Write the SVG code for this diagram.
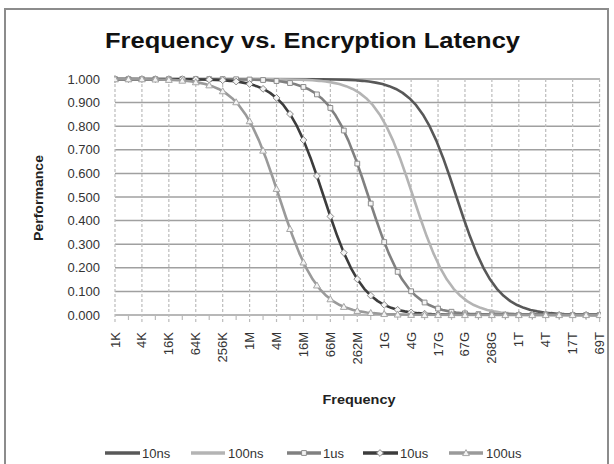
<svg xmlns="http://www.w3.org/2000/svg" width="614" height="464" viewBox="0 0 614 464">
  <style>
    .frame { fill: #ffffff; stroke: #8c8c8c; stroke-width: 2; }
    .title { font-family: "Liberation Sans", Arial, sans-serif; font-weight: bold; font-size: 22px; fill: #111111; }
    .axis-title { font-family: "Liberation Sans", Arial, sans-serif; font-weight: bold; font-size: 12px; fill: #222222; }
    .tick { font-family: "Liberation Sans", Arial, sans-serif; font-size: 13px; fill: #333333; }
    .legend-text { font-family: "Liberation Sans", Arial, sans-serif; font-size: 13px; fill: #333333; }
    .hgrid { stroke: #a0a0a0; stroke-width: 1.5; fill: none; }
    .vgrid { stroke: #bcbcbc; stroke-width: 1.2; stroke-dasharray: 3 2; fill: none; }
    .minor { stroke: #bcbcbc; stroke-width: 1.2; }
    .curve { fill: none; stroke-width: 2.6; stroke-linejoin: round; stroke-linecap: round; }
    .c10ns { stroke: #585858; }
    .c100ns { stroke: #b4b4b4; }
    .c1us { stroke: #808080; }
    .c10us { stroke: #3c3c3c; }
    .c100us { stroke: #9a9a9a; }
    .mk { fill: #f4f4f4; stroke-width: 1; }
    .m1us { stroke: #8c8c8c; }
    .m10us { stroke: #8a8a8a; }
    .m100us { stroke: #a6a6a6; }
    .legend-line { stroke-width: 3.5; fill: none; }
  </style>
  <defs>
    <!-- shared curve shape: performance = 1/(1+2^u), 13.46 px per doubling, shifted per series -->
    <path id="sigmoid" d="M-350,79 L-134.6,79.23 L-121.14,79.46 L-107.68,79.92 L-100.95,80.30 L-94.22,80.83 L-87.49,81.58 L-80.76,82.63 L-74.03,84.10 L-67.3,86.15 L-60.57,88.99 L-53.84,92.88 L-47.11,98.17 L-40.38,105.22 L-33.65,114.45 L-26.92,126.2 L-20.19,140.64 L-13.46,157.67 L-6.73,176.75 L0,197 L6.73,217.25 L13.46,236.33 L20.19,253.36 L26.92,267.8 L33.65,279.55 L40.38,288.78 L47.11,295.83 L53.84,301.12 L60.57,305.01 L67.3,307.85 L74.03,309.90 L80.76,311.37 L87.49,312.42 L94.22,313.17 L100.95,313.70 L107.68,314.08 L121.14,314.54 L134.6,314.77 L350,315"/>
    <path id="sq" d="M-2.4,-2.4h4.8v4.8h-4.8z"/>
    <path id="dm" d="M0,-3.4L3.4,0L0,3.4L-3.4,0z"/>
    <path id="tr" d="M0,-3.4L3.4,2.6H-3.4z"/>
    <clipPath id="plot-clip">
      <rect x="114" y="60" width="487" height="270"/>
    </clipPath>
  </defs>

  <!-- chart frame -->
  <rect class="frame" x="5" y="9" width="603" height="470"/>

  <text class="title" x="105" y="48" textLength="415" lengthAdjust="spacingAndGlyphs">Frequency vs. Encryption Latency</text>

  <!-- gridlines -->
  <g id="grid">
    <g class="hgrid">
      <line x1="115" y1="79" x2="600" y2="79"/>
      <line x1="115" y1="102.6" x2="600" y2="102.6"/>
      <line x1="115" y1="126.2" x2="600" y2="126.2"/>
      <line x1="115" y1="149.8" x2="600" y2="149.8"/>
      <line x1="115" y1="173.4" x2="600" y2="173.4"/>
      <line x1="115" y1="197" x2="600" y2="197"/>
      <line x1="115" y1="220.6" x2="600" y2="220.6"/>
      <line x1="115" y1="244.2" x2="600" y2="244.2"/>
      <line x1="115" y1="267.8" x2="600" y2="267.8"/>
      <line x1="115" y1="291.4" x2="600" y2="291.4"/>
      <line x1="115" y1="315" x2="600" y2="315"/>
    </g>
    <g class="vgrid">
      <line x1="115" y1="79" x2="115" y2="322"/>
      <line x1="141.92" y1="79" x2="141.92" y2="322"/>
      <line x1="168.84" y1="79" x2="168.84" y2="322"/>
      <line x1="195.76" y1="79" x2="195.76" y2="322"/>
      <line x1="222.68" y1="79" x2="222.68" y2="322"/>
      <line x1="249.6" y1="79" x2="249.6" y2="322"/>
      <line x1="276.52" y1="79" x2="276.52" y2="322"/>
      <line x1="303.44" y1="79" x2="303.44" y2="322"/>
      <line x1="330.36" y1="79" x2="330.36" y2="322"/>
      <line x1="357.28" y1="79" x2="357.28" y2="322"/>
      <line x1="384.2" y1="79" x2="384.2" y2="322"/>
      <line x1="411.12" y1="79" x2="411.12" y2="322"/>
      <line x1="438.04" y1="79" x2="438.04" y2="322"/>
      <line x1="464.96" y1="79" x2="464.96" y2="322"/>
      <line x1="491.88" y1="79" x2="491.88" y2="322"/>
      <line x1="518.8" y1="79" x2="518.8" y2="322"/>
      <line x1="545.72" y1="79" x2="545.72" y2="322"/>
      <line x1="572.64" y1="79" x2="572.64" y2="322"/>
      <line x1="599.56" y1="79" x2="599.56" y2="322"/>
    </g>
    <g class="minor">
      <line x1="128.46" y1="316" x2="128.46" y2="320"/>
      <line x1="155.38" y1="316" x2="155.38" y2="320"/>
      <line x1="182.3" y1="316" x2="182.3" y2="320"/>
      <line x1="209.22" y1="316" x2="209.22" y2="320"/>
      <line x1="236.14" y1="316" x2="236.14" y2="320"/>
      <line x1="263.06" y1="316" x2="263.06" y2="320"/>
      <line x1="289.98" y1="316" x2="289.98" y2="320"/>
      <line x1="316.9" y1="316" x2="316.9" y2="320"/>
      <line x1="343.82" y1="316" x2="343.82" y2="320"/>
      <line x1="370.74" y1="316" x2="370.74" y2="320"/>
      <line x1="397.66" y1="316" x2="397.66" y2="320"/>
      <line x1="424.58" y1="316" x2="424.58" y2="320"/>
      <line x1="451.5" y1="316" x2="451.5" y2="320"/>
      <line x1="478.42" y1="316" x2="478.42" y2="320"/>
      <line x1="505.34" y1="316" x2="505.34" y2="320"/>
      <line x1="532.26" y1="316" x2="532.26" y2="320"/>
      <line x1="559.18" y1="316" x2="559.18" y2="320"/>
      <line x1="586.1" y1="316" x2="586.1" y2="320"/>
    </g>
  </g>

  <!-- value axis labels -->
  <g id="y-axis" class="tick" text-anchor="end">
    <text x="100" y="83.5">1.000</text>
    <text x="100" y="107.1">0.900</text>
    <text x="100" y="130.7">0.800</text>
    <text x="100" y="154.3">0.700</text>
    <text x="100" y="177.9">0.600</text>
    <text x="100" y="201.5">0.500</text>
    <text x="100" y="225.1">0.400</text>
    <text x="100" y="248.7">0.300</text>
    <text x="100" y="272.3">0.200</text>
    <text x="100" y="295.9">0.100</text>
    <text x="100" y="319.5">0.000</text>
  </g>
  <text class="axis-title" transform="translate(43,198) rotate(-90)" text-anchor="middle" textLength="86" lengthAdjust="spacingAndGlyphs">Performance</text>

  <!-- category axis labels -->
  <g id="x-axis" class="tick" text-anchor="end">
    <text transform="translate(119.5,332) rotate(-90)">1K</text>
    <text transform="translate(146.42,332) rotate(-90)">4K</text>
    <text transform="translate(173.34,332) rotate(-90)">16K</text>
    <text transform="translate(200.26,332) rotate(-90)">64K</text>
    <text transform="translate(227.18,332) rotate(-90)">256K</text>
    <text transform="translate(254.1,332) rotate(-90)">1M</text>
    <text transform="translate(281.02,332) rotate(-90)">4M</text>
    <text transform="translate(307.94,332) rotate(-90)">16M</text>
    <text transform="translate(334.86,332) rotate(-90)">66M</text>
    <text transform="translate(361.78,332) rotate(-90)">262M</text>
    <text transform="translate(388.7,332) rotate(-90)">1G</text>
    <text transform="translate(415.62,332) rotate(-90)">4G</text>
    <text transform="translate(442.54,332) rotate(-90)">17G</text>
    <text transform="translate(469.46,332) rotate(-90)">67G</text>
    <text transform="translate(496.38,332) rotate(-90)">268G</text>
    <text transform="translate(523.3,332) rotate(-90)">1T</text>
    <text transform="translate(550.22,332) rotate(-90)">4T</text>
    <text transform="translate(577.14,332) rotate(-90)">17T</text>
    <text transform="translate(604.06,332) rotate(-90)">69T</text>
  </g>
  <text class="axis-title" x="359" y="404" text-anchor="middle" textLength="73" lengthAdjust="spacingAndGlyphs">Frequency</text>

  <!-- data series -->
  <g id="connectors" clip-path="url(#plot-clip)">
    <g id="series-10ns">
      <use href="#sigmoid" class="curve c10ns" transform="translate(456.5,0)"/>
    </g>
    <g id="series-100ns">
      <use href="#sigmoid" class="curve c100ns" transform="translate(413.27,0)"/>
    </g>
    <g id="series-1us">
      <use href="#sigmoid" class="curve c1us" transform="translate(368.59,0)"/>
      <g class="mk m1us">
        <use href="#sq" x="115" y="79.1"/><use href="#sq" x="128.46" y="79.1"/><use href="#sq" x="141.92" y="79.1"/>
        <use href="#sq" x="155.38" y="79.1"/><use href="#sq" x="168.84" y="79.1"/><use href="#sq" x="182.3" y="79.1"/>
        <use href="#sq" x="195.76" y="79.1"/><use href="#sq" x="209.22" y="79.1"/><use href="#sq" x="222.68" y="79.1"/>
        <use href="#sq" x="236.14" y="79.26"/><use href="#sq" x="249.6" y="79.51"/><use href="#sq" x="263.06" y="80.02"/>
        <use href="#sq" x="276.52" y="81.04"/><use href="#sq" x="289.98" y="83.05"/><use href="#sq" x="303.44" y="86.96"/>
        <use href="#sq" x="316.9" y="94.4"/><use href="#sq" x="330.36" y="107.92"/><use href="#sq" x="343.82" y="130.53"/>
        <use href="#sq" x="357.28" y="163.59"/><use href="#sq" x="370.74" y="203.53"/><use href="#sq" x="384.2" y="242.04"/>
        <use href="#sq" x="397.66" y="271.85"/><use href="#sq" x="411.12" y="291.25"/><use href="#sq" x="424.58" y="302.5"/>
        <use href="#sq" x="438.04" y="308.58"/><use href="#sq" x="451.5" y="311.75"/><use href="#sq" x="464.96" y="313.36"/>
        <use href="#sq" x="478.42" y="314.18"/><use href="#sq" x="491.88" y="314.59"/><use href="#sq" x="505.34" y="314.8"/>
        <use href="#sq" x="518.8" y="315"/><use href="#sq" x="532.26" y="315"/><use href="#sq" x="545.72" y="315"/>
        <use href="#sq" x="559.18" y="315"/><use href="#sq" x="572.64" y="315"/><use href="#sq" x="586.1" y="315"/>
        <use href="#sq" x="599.56" y="315"/>
      </g>
    </g>
    <g id="series-10us">
      <use href="#sigmoid" class="curve c10us" transform="translate(323.9,0)"/>
      <g class="mk m10us">
        <use href="#dm" x="115" y="79.1"/><use href="#dm" x="128.46" y="79.1"/><use href="#dm" x="141.92" y="79.1"/>
        <use href="#dm" x="155.38" y="79.1"/><use href="#dm" x="168.84" y="79.1"/><use href="#dm" x="182.3" y="79.1"/>
        <use href="#dm" x="195.76" y="79.32"/><use href="#dm" x="209.22" y="79.64"/><use href="#dm" x="222.68" y="80.28"/>
        <use href="#dm" x="236.14" y="81.54"/><use href="#dm" x="249.6" y="84.03"/><use href="#dm" x="263.06" y="88.86"/>
        <use href="#dm" x="276.52" y="97.92"/><use href="#dm" x="289.98" y="114.04"/><use href="#dm" x="303.44" y="140.02"/>
        <use href="#dm" x="316.9" y="175.96"/><use href="#dm" x="330.36" y="216.45"/><use href="#dm" x="343.82" y="252.72"/>
        <use href="#dm" x="357.28" y="279.13"/><use href="#dm" x="370.74" y="295.59"/><use href="#dm" x="384.2" y="304.88"/>
        <use href="#dm" x="397.66" y="309.83"/><use href="#dm" x="411.12" y="312.39"/><use href="#dm" x="424.58" y="313.69"/>
        <use href="#dm" x="438.04" y="314.34"/><use href="#dm" x="451.5" y="314.67"/><use href="#dm" x="464.96" y="314.85"/>
        <use href="#dm" x="478.42" y="315"/><use href="#dm" x="491.88" y="315"/><use href="#dm" x="505.34" y="315"/>
        <use href="#dm" x="518.8" y="315"/><use href="#dm" x="532.26" y="315"/><use href="#dm" x="545.72" y="315"/>
        <use href="#dm" x="559.18" y="315"/><use href="#dm" x="572.64" y="315"/><use href="#dm" x="586.1" y="315"/>
        <use href="#dm" x="599.56" y="315"/>
      </g>
    </g>
    <g id="series-100us">
      <use href="#sigmoid" class="curve c100us" transform="translate(279.21,0)"/>
      <g class="mk m100us">
        <use href="#tr" x="115" y="79.2"/><use href="#tr" x="128.46" y="79.2"/><use href="#tr" x="141.92" y="79.2"/>
        <use href="#tr" x="155.38" y="79.4"/><use href="#tr" x="168.84" y="79.8"/><use href="#tr" x="182.3" y="80.59"/>
        <use href="#tr" x="195.76" y="82.17"/><use href="#tr" x="209.22" y="85.25"/><use href="#tr" x="222.68" y="91.18"/>
        <use href="#tr" x="236.14" y="102.16"/><use href="#tr" x="249.6" y="121.18"/><use href="#tr" x="263.06" y="150.57"/>
        <use href="#tr" x="276.52" y="188.84"/><use href="#tr" x="289.98" y="228.9"/><use href="#tr" x="303.44" y="262.35"/>
        <use href="#tr" x="316.9" y="285.37"/><use href="#tr" x="330.36" y="299.19"/><use href="#tr" x="343.82" y="306.82"/>
        <use href="#tr" x="357.28" y="310.84"/><use href="#tr" x="370.74" y="312.9"/><use href="#tr" x="384.2" y="313.95"/>
        <use href="#tr" x="397.66" y="314.47"/><use href="#tr" x="411.12" y="314.8"/><use href="#tr" x="424.58" y="315"/>
        <use href="#tr" x="438.04" y="315"/><use href="#tr" x="451.5" y="315"/><use href="#tr" x="464.96" y="315"/>
        <use href="#tr" x="478.42" y="315"/><use href="#tr" x="491.88" y="315"/><use href="#tr" x="505.34" y="315"/>
        <use href="#tr" x="518.8" y="315"/><use href="#tr" x="532.26" y="315"/><use href="#tr" x="545.72" y="315"/>
        <use href="#tr" x="559.18" y="315"/><use href="#tr" x="572.64" y="315"/><use href="#tr" x="586.1" y="315"/>
        <use href="#tr" x="599.56" y="315"/>
      </g>
    </g>
  </g>

  <!-- legend -->
  <g id="legend">
    <g id="legend-10ns">
      <line class="legend-line c10ns" x1="105" y1="453" x2="140" y2="453"/>
      <text class="legend-text" x="142" y="458">10ns</text>
    </g>
    <g id="legend-100ns">
      <line class="legend-line c100ns" x1="191" y1="453" x2="225" y2="453"/>
      <text class="legend-text" x="228" y="458">100ns</text>
    </g>
    <g id="legend-1us">
      <line class="legend-line c1us" x1="287" y1="453" x2="321" y2="453"/>
      <use href="#sq" class="mk m1us" x="304" y="453"/>
      <text class="legend-text" x="323" y="458">1us</text>
    </g>
    <g id="legend-10us">
      <line class="legend-line c10us" x1="363" y1="453" x2="398" y2="453"/>
      <use href="#dm" class="mk m10us" x="380" y="453"/>
      <text class="legend-text" x="400" y="458">10us</text>
    </g>
    <g id="legend-100us">
      <line class="legend-line c100us" x1="449" y1="453" x2="483" y2="453"/>
      <use href="#tr" class="mk m100us" x="466" y="453"/>
      <text class="legend-text" x="486" y="458">100us</text>
    </g>
  </g>
</svg>
